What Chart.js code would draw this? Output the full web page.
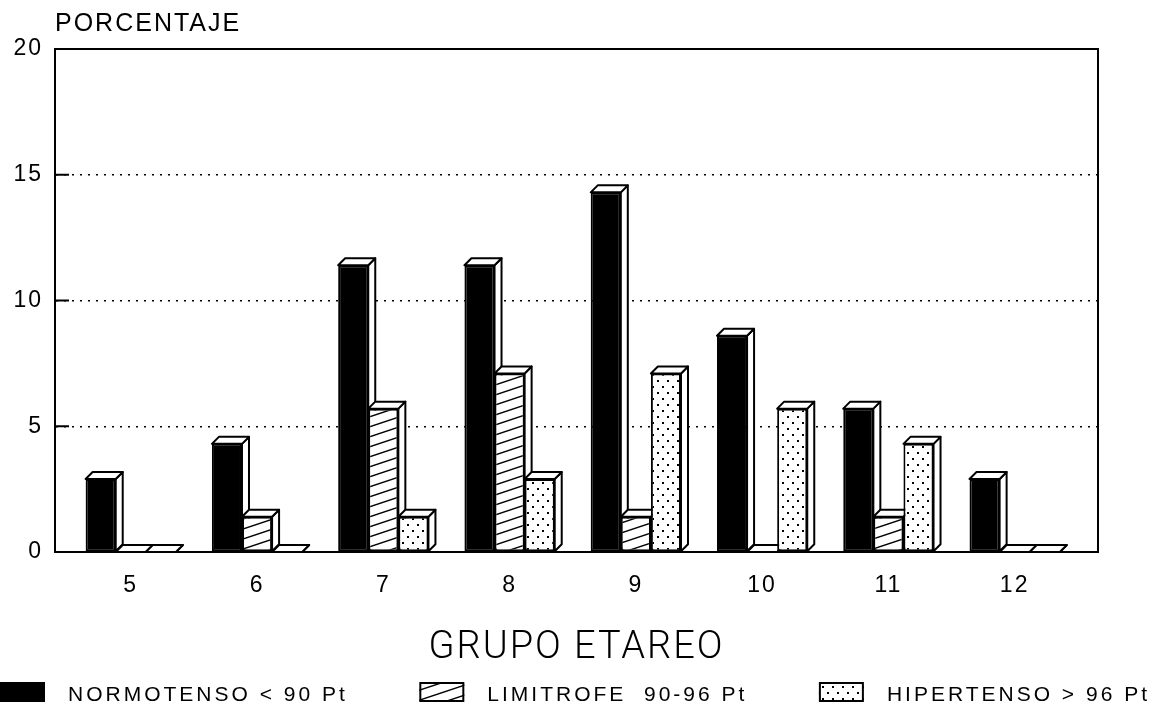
<!DOCTYPE html>
<html>
<head>
<meta charset="utf-8">
<script src="https://cdn.jsdelivr.net/npm/chart.js"></script>
<style>
  html, body { margin: 0; padding: 0; background: #fff; }
  #wrap { width: 1154px; height: 710px; position: relative; }
</style>
</head>
<body>
<div id="wrap"><canvas id="chart"></canvas></div>
<script>
// [data]
const ages = [5, 6, 7, 8, 9, 10, 11, 12];
const normotenso = [2.9, 4.3, 11.4, 11.4, 14.3, 8.6, 5.7, 2.9];
const limitrofe = [0, 1.4, 5.7, 7.1, 1.4, 0, 1.4, 0];
const hipertenso = [0, 0, 1.4, 2.9, 7.1, 5.7, 4.3, 0];
const seriesLabels = ["NORMOTENSO < 90 Pt", "LIMITROFE  90-96 Pt", "HIPERTENSO > 96 Pt"];
const yTicks = [0, 5, 10, 15, 20];

// [settings]
const FONT = "'Liberation Sans', Arial, Helvetica, sans-serif";
const DEPTH = 7; // 3D offset of bar top/side

const canvas = document.getElementById("chart");
const ctx = canvas.getContext("2d");

// hatch pattern for LIMITROFE
const makeHatch = () => {
  const c = document.createElement("canvas");
  c.width = 30;
  c.height = 10;
  const g = c.getContext("2d");
  g.fillStyle = "#fff";
  g.fillRect(0, 0, 30, 10);
  g.strokeStyle = "#000";
  g.lineWidth = 1.4;
  [-10, 0, 10].forEach((dy) => {
    g.beginPath();
    g.moveTo(0, 10 + dy);
    g.lineTo(30, dy);
    g.stroke();
  });
  return ctx.createPattern(c, "repeat");
};

// dot pattern for HIPERTENSO
const makeDots = () => {
  const c = document.createElement("canvas");
  c.width = 10;
  c.height = 12;
  const g = c.getContext("2d");
  g.fillStyle = "#fff";
  g.fillRect(0, 0, 10, 12);
  g.fillStyle = "#000";
  g.fillRect(2, 2, 2, 2);
  g.fillRect(7, 8, 2, 2);
  return ctx.createPattern(c, "repeat");
};

const fills = ["#000", makeHatch(), makeDots()];
const seriesData = [normotenso, limitrofe, hipertenso];

const spacingPlugin = {
  id: "letterSpacing",
  beforeUpdate: (chart) => { chart.ctx.letterSpacing = "2px"; },
  beforeDraw: (chart) => { chart.ctx.letterSpacing = "2px"; },
};

// top + side faces, drawn group by group before the fronts
const depthPlugin = {
  id: "depth3d",
  beforeDatasetsDraw: (chart) => {
    const c = chart.ctx;
    c.save();
    c.lineWidth = 2;
    c.strokeStyle = "#000";
    c.fillStyle = "#fff";
    c.lineJoin = "round";
    ages.forEach((age, j) => {
      chart.data.datasets.forEach((ds, i) => {
        const el = chart.getDatasetMeta(i).data[j];
        if (!el) return;
        const { x, y, base, width } = el.getProps(["x", "y", "base", "width"], true);
        const l = x - width / 2;
        const r = x + width / 2;
        c.beginPath();
        c.moveTo(r, y);
        c.lineTo(r + DEPTH, y - DEPTH);
        c.lineTo(r + DEPTH, base - DEPTH);
        c.lineTo(r, base);
        c.closePath();
        c.fill();
        c.stroke();
        c.beginPath();
        c.moveTo(l, y);
        c.lineTo(l + DEPTH, y - DEPTH);
        c.lineTo(r + DEPTH, y - DEPTH);
        c.lineTo(r, y);
        c.closePath();
        c.fill();
        c.stroke();
      });
    });
    c.restore();
  },
};

const framePlugin = {
  id: "frame",
  afterDatasetsDraw: (chart) => {
    const { ctx: c, chartArea: a, scales: { y } } = chart;
    c.save();
    c.strokeStyle = "#000";
    c.lineWidth = 2;
    c.strokeRect(a.left, a.top, a.right - a.left, a.bottom - a.top);
    c.beginPath();
    yTicks.slice(1, -1).forEach((v) => {
      const yy = y.getPixelForValue(v);
      c.moveTo(a.left, yy);
      c.lineTo(a.left + 14, yy);
    });
    c.stroke();
    c.restore();
  },
};

const legendPlugin = {
  id: "bottomLegend",
  afterDraw: (chart) => {
    const c = chart.ctx;
    c.save();
    c.font = "21px " + FONT;
    c.letterSpacing = "3px";
    c.textBaseline = "middle";
    const boxW = 45;
    const boxH = 20;
    const gap = 23;
    const items = chart.data.datasets.map((ds) => ({ ds, w: c.measureText(ds.label).width }));
    const natural = items.reduce((s, it) => s + boxW + gap + it.w, 0);
    const right = chart.width - 4;
    const between = (right - natural) / (items.length - 1);
    const yBox = chart.height - 28;
    let xPos = 0;
    items.forEach(({ ds, w }) => {
      c.fillStyle = ds.backgroundColor;
      c.fillRect(xPos, yBox, boxW, boxH);
      c.lineWidth = 2;
      c.strokeStyle = "#000";
      c.strokeRect(xPos + 1, yBox + 1, boxW - 2, boxH - 2);
      c.fillStyle = "#000";
      c.fillText(ds.label, xPos + boxW + gap, yBox + boxH / 2 + 3);
      xPos += boxW + gap + w + between;
    });
    c.restore();
  },
};

const data = {
  datasets: seriesData.map((vals, i) => ({
    label: seriesLabels[i],
    data: vals.map((v, j) => ({ x: ages[j], y: v })),
    backgroundColor: fills[i],
    borderColor: "#000",
    borderWidth: 2,
    borderSkipped: false,
    categoryPercentage: 0.715,
    barPercentage: 1,
  })),
};

const chart = new Chart(ctx, {
  type: "bar",
  data: data,
  plugins: [spacingPlugin, depthPlugin, framePlugin, legendPlugin],
  options: {
    responsive: true,
    maintainAspectRatio: false,
    animation: false,
    layout: { padding: { left: 0, right: 56, top: 0, bottom: 0 } },
    plugins: {
      legend: { display: false },
      tooltip: { enabled: false },
      title: {
        display: true,
        text: "PORCENTAJE",
        align: "start",
        fullSize: false,
        color: "#000",
        font: { family: FONT, size: 25, weight: "normal" },
        padding: { top: 9, bottom: 10 },
      },
    },
    scales: {
      x: {
        type: "linear",
        min: 4.4,
        max: 12.66,
        offset: false,
        afterBuildTicks: (s) => { s.ticks = ages.map((v) => ({ value: v })); },
        afterFit: (s) => { s.height = 158; },
        grid: { display: false, drawTicks: false },
        border: { display: true, color: "#000", width: 2 },
        ticks: {
          color: "#000",
          padding: 20,
          font: { family: FONT, size: 23 },
          callback: (v) => String(v),
        },
        title: {
          display: true,
          text: "GRUPO ETAREO",
          color: "#000",
          font: { family: "Roboto, " + FONT, size: 38, weight: 300 },
          padding: { top: 0, bottom: 39 },
        },
      },
      y: {
        min: 0,
        max: 20,
        afterBuildTicks: (s) => { s.ticks = yTicks.map((v) => ({ value: v })); },
        afterFit: (s) => { s.width = 55; },
        grid: {
          color: (c) => (c.tick && (c.tick.value === 0 || c.tick.value === 20) ? "rgba(0,0,0,0)" : "#000"),
          lineWidth: 1.5,
          drawTicks: false,
        },
        border: { display: true, color: "#000", width: 2, dash: [2, 6] },
        ticks: { color: "#000", padding: 12, font: { family: FONT, size: 23 } },
      },
    },
  },
});
</script>
</body>
</html>
